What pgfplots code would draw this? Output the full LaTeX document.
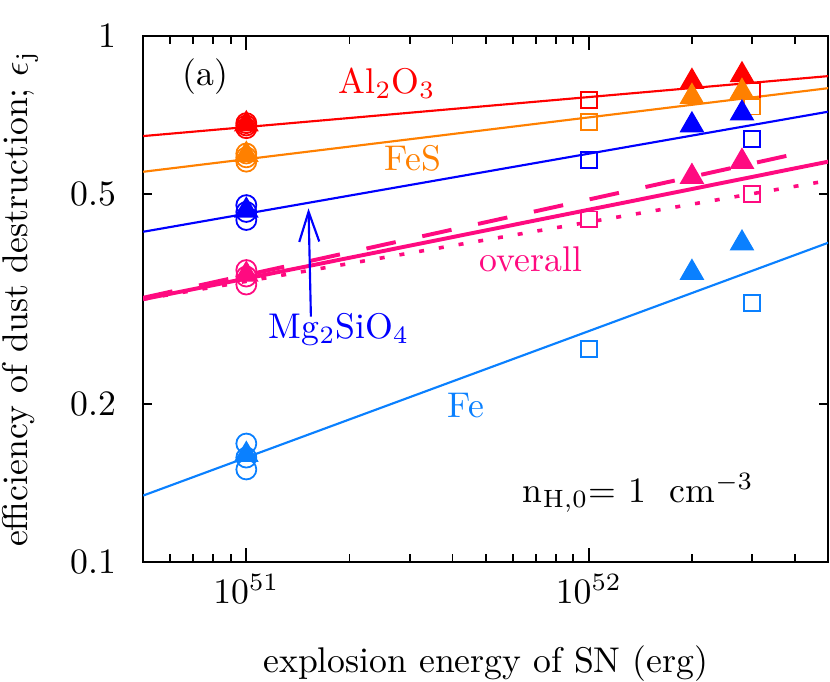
\documentclass[border=0pt]{standalone}
\usepackage{pgfplots}
\pgfplotsset{compat=1.18}
\usetikzlibrary{arrows.meta}
\definecolor{cAl}{HTML}{FF0000}
\definecolor{cFeS}{HTML}{FF8000}
\definecolor{cMg}{HTML}{0000FF}
\definecolor{cAll}{HTML}{FF0A80}
\definecolor{cFe}{HTML}{0A80FF}

\begin{document}
\begin{tikzpicture}
\begin{axis}[
  scale only axis, width=191.8pt, height=147.3pt,
  xmode=log, ymode=log,
  xmin=5e50, xmax=5e52, ymin=0.1, ymax=1,
  tick align=inside, tick pos=both,
  xtick={1e51,1e52}, xticklabels={$10^{51}$,$10^{52}$},
  minor xtick={6e50,7e50,8e50,9e50,2e51,3e51,4e51,5e51,6e51,7e51,8e51,9e51,2e52,3e52,4e52,5e52},
  ytick=\empty,
  minor ytick={0.2,0.3,0.4,0.5,0.6,0.7,0.8,0.9},
  extra y ticks={0.1,0.2,0.5,1},
  extra y tick labels={0.1,0.2,0.5,1},
  extra y tick style={major tick length=2.5pt},
  major tick length=4.0pt, minor tick length=2.2pt,
  every tick/.style={black, line width=0.5pt},
  axis line style={line width=0.6pt},
  yticklabel style={xshift=-4pt},
  xlabel={explosion energy of SN (erg)},
  ylabel={efficiency of dust destruction; $\epsilon_{\mathrm{j}}$},
  xlabel style={at={(axis description cs:0.5,-0.209)}, anchor=base},
  ylabel style={at={(axis description cs:-0.1796,0.5)}, anchor=center},
  clip=true,
]
% fitted lines
\addplot[cAl, line width=0.6pt] coordinates {(5e50,0.6454) (5e52,0.839)};
\addplot[cFeS, line width=0.6pt] coordinates {(5e50,0.552) (5e52,0.796)};
\addplot[cMg, line width=0.6pt] coordinates {(5e50,0.4245) (5e52,0.718)};
\addplot[cFe, line width=0.6pt] coordinates {(5e50,0.1338) (5e52,0.4046)};
\addplot[cAll, line width=1.1pt] coordinates {(5e50,0.316) (5e52,0.577)};
\addplot[cAll, line width=1.1pt, dash pattern=on 8.4pt off 7.6pt] coordinates {(5e50,0.318) (4.31e52,0.603)};
\addplot[cAll, line width=1.0pt, dash pattern=on 1.4pt off 4.2pt] coordinates {(5e50,0.316) (4.67e52,0.527)};

% circles at 1e51
\addplot[only marks, mark=o, mark size=2.8pt, cAl, mark options={line width=0.5pt}] coordinates {(1e51,0.668) (1e51,0.676) (1e51,0.683)};
\addplot[only marks, mark=o, mark size=2.8pt, cFeS, mark options={line width=0.5pt}] coordinates {(1e51,0.577) (1e51,0.588) (1e51,0.598)};
\addplot[only marks, mark=o, mark size=2.8pt, cMg, mark options={line width=0.5pt}] coordinates {(1e51,0.447) (1e51,0.463) (1e51,0.477)};
\addplot[only marks, mark=o, mark size=2.8pt, cAll, mark options={line width=0.5pt}] coordinates {(1e51,0.337) (1e51,0.349) (1e51,0.359)};
\addplot[only marks, mark=o, mark size=2.8pt, cFe, mark options={line width=0.5pt}] coordinates {(1e51,0.150) (1e51,0.158) (1e51,0.168)};

% squares
\addplot[only marks, mark=square, mark size=2.2pt, cAl, mark options={line width=0.5pt}] coordinates {(1e52,0.756) (3e52,0.787)};
\addplot[only marks, mark=square, mark size=2.2pt, cFeS, mark options={line width=0.5pt}] coordinates {(1e52,0.687) (3e52,0.734)};
\addplot[only marks, mark=square, mark size=2.2pt, cMg, mark options={line width=0.5pt}] coordinates {(1e52,0.581) (3e52,0.637)};
\addplot[only marks, mark=square, mark size=2.2pt, cAll, mark options={line width=0.5pt}] coordinates {(1e52,0.448) (3e52,0.501)};
\addplot[only marks, mark=square, mark size=2.2pt, cFe, mark options={line width=0.5pt}] coordinates {(1e52,0.2543) (3e52,0.311)};

% filled triangles
\addplot[only marks, mark=triangle*, mark size=3.6pt, cAl] coordinates {(1e51,0.680) (2e52,0.819) (2.8e52,0.843)};
\addplot[only marks, mark=triangle*, mark size=3.6pt, cFeS] coordinates {(1e51,0.595) (2e52,0.767) (2.8e52,0.784)};
\addplot[only marks, mark=triangle*, mark size=3.6pt, cMg] coordinates {(1e51,0.466) (2e52,0.677) (2.8e52,0.713)};
\addplot[only marks, mark=triangle*, mark size=3.6pt, cAll] coordinates {(1e51,0.352) (2e52,0.540) (2.8e52,0.577)};
\addplot[only marks, mark=triangle*, mark size=3.6pt, cFe] coordinates {(1e51,0.160) (2e52,0.355) (2.8e52,0.4036)};

% annotations
\node[anchor=center] at (rel axis cs:0.0905,0.922) {(a)};
\node[anchor=base west, inner sep=0pt, text=cAl] at (rel axis cs:0.2847,0.8916) {Al$_2$O$_3$};
\node[anchor=base west, inner sep=0pt, text=cFeS] at (rel axis cs:0.3518,0.745) {FeS};
\node[anchor=base west, inner sep=0pt, text=cAll] at (rel axis cs:0.4905,0.552) {overall};
\node[anchor=base west, inner sep=0pt, text=cMg] at (rel axis cs:0.1825,0.4259) {Mg$_2$SiO$_4$};
\node[anchor=base west, inner sep=0pt, text=cFe] at (rel axis cs:0.4438,0.2757) {Fe};
\node[anchor=base west, inner sep=0pt] at (rel axis cs:0.5533,0.114) {n$_{\mathrm{H,0}}$= 1~~cm$^{-3}$};
\draw[cMg, line width=0.6pt, -{Straight Barb[length=8.4pt,width=5.6pt]}] (rel axis cs:0.2448,0.4664) -- (rel axis cs:0.2413,0.6724);

\coordinate (bbsw) at (rel axis cs:-0.20876,-0.22624);
\coordinate (bbne) at (rel axis cs:1.00292,1.06844);
\end{axis}
\pgfresetboundingbox
\useasboundingbox (bbsw) rectangle (bbne);
\end{tikzpicture}
\end{document}
